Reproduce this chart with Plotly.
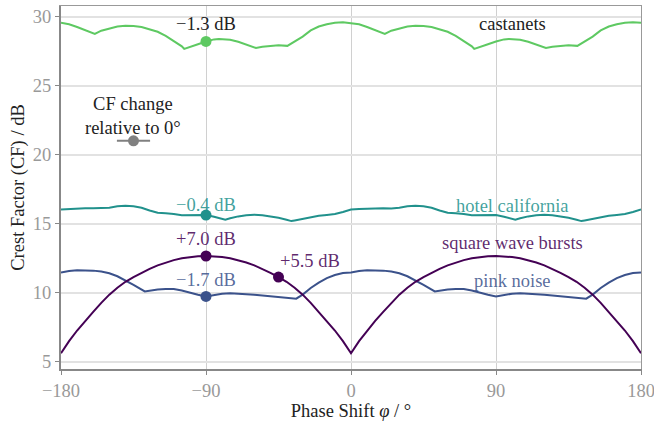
import numpy as np
import plotly.graph_objects as go

# ---------------- data ----------------
phase_ticks = [-180, -90, 0, 90, 180]
phase_tick_labels = ["\u2212180", "\u221290", "0", "90", "180"]
cf_ticks = [5, 10, 15, 20, 25, 30]

cast_x = [-180, -175, -170, -165, -159, -155, -150, -145, -140, -135, -130, -125, -120, -115, -110, -105, -103.5,
          -100, -95, -90, -85, -82, -75, -70, -65, -59, -55, -50, -45, -39.5, -35, -30, -25, -20, -15, -10, -5,
          0, 5, 10, 15, 21, 25, 30, 35, 40, 45, 50, 55, 60, 65, 70, 75, 76.5,
          80, 85, 90, 95, 98, 105, 110, 115, 121, 125, 130, 135, 140.5, 145, 150, 155, 160, 165, 170, 175, 180]
cast_y = [29.55, 29.45, 29.25, 29.02, 28.75, 28.98, 29.15, 29.28, 29.33, 29.32, 29.25, 29.08, 28.9, 28.6, 28.25, 27.85, 27.66,
          27.82, 28.0, 28.2, 28.35, 28.38, 28.32, 28.18, 28.0, 27.73, 27.82, 27.9, 27.93, 27.88, 28.22, 28.55, 29.0, 29.28, 29.45, 29.56, 29.6,
          29.55, 29.45, 29.25, 29.02, 28.75, 28.98, 29.15, 29.28, 29.33, 29.32, 29.25, 29.08, 28.9, 28.6, 28.25, 27.85, 27.66,
          27.82, 28.0, 28.2, 28.35, 28.38, 28.32, 28.18, 28.0, 27.73, 27.82, 27.9, 27.93, 27.88, 28.22, 28.55, 29.0, 29.28, 29.45, 29.56, 29.6, 29.55]

hotel_x = [-180, -175, -170, -165, -160, -155, -150, -145, -140, -135, -130, -125, -120, -115, -110, -105, -100, -95, -90,
           -85, -78, -75, -70, -65, -60, -55, -50, -45, -40, -37, -35, -30, -25, -20, -15, -10, -5,
           0, 5, 10, 15, 20, 25, 30, 35, 40, 45, 50, 55, 60, 65, 70, 75, 80, 85, 90,
           95, 102, 105, 110, 115, 120, 125, 130, 135, 140, 143, 145, 150, 155, 160, 165, 170, 175, 180]
hotel_y = [16.02, 16.06, 16.09, 16.12, 16.11, 16.1, 16.14, 16.25, 16.3, 16.26, 16.15, 15.95, 15.78, 15.74, 15.7, 15.6, 15.62, 15.65, 15.62,
           15.5, 15.28, 15.38, 15.52, 15.6, 15.64, 15.6, 15.53, 15.42, 15.28, 15.18, 15.22, 15.35, 15.47, 15.56, 15.63, 15.7, 15.84,
           16.02, 16.06, 16.09, 16.12, 16.11, 16.1, 16.14, 16.25, 16.3, 16.26, 16.15, 15.95, 15.78, 15.74, 15.7, 15.6, 15.62, 15.65, 15.62,
           15.5, 15.28, 15.38, 15.52, 15.6, 15.64, 15.6, 15.53, 15.42, 15.28, 15.18, 15.22, 15.35, 15.47, 15.56, 15.63, 15.7, 15.84, 16.02]

pink_x = [-180, -175, -170, -165, -160, -155, -150, -145, -140, -135, -128, -125, -120, -115, -110, -105, -100, -95, -90,
          -85, -80, -75, -70, -65, -60, -55, -50, -45, -40, -34, -30, -25, -20, -15, -10, -5,
          0, 5, 10, 15, 20, 25, 30, 35, 40, 45, 52, 55, 60, 65, 70, 75, 80, 85, 90,
          95, 100, 105, 110, 115, 120, 125, 130, 135, 140, 146, 150, 155, 160, 165, 170, 175, 180]
pink_y = [11.45, 11.56, 11.61, 11.62, 11.59, 11.52, 11.4, 11.18, 10.88, 10.55, 10.08, 10.15, 10.22, 10.26, 10.25, 10.15, 9.97, 9.84, 9.72,
          9.84, 9.92, 9.95, 9.93, 9.88, 9.84, 9.79, 9.73, 9.67, 9.62, 9.56, 9.85, 10.33, 10.72, 11.05, 11.27, 11.41,
          11.45, 11.56, 11.61, 11.62, 11.59, 11.52, 11.4, 11.18, 10.88, 10.55, 10.08, 10.15, 10.22, 10.26, 10.25, 10.15, 9.97, 9.84, 9.72,
          9.84, 9.92, 9.95, 9.93, 9.88, 9.84, 9.79, 9.73, 9.67, 9.62, 9.56, 9.85, 10.33, 10.72, 11.05, 11.27, 11.41, 11.45]

square_x = [-180, -175, -170, -165, -160, -155, -150, -145, -140, -135, -130, -125, -120, -115, -110, -105, -100, -95,
            -90, -85, -80, -75, -70, -65, -60, -55, -50, -45, -40, -35, -30, -25, -20, -15, -10, -5,
            0, 5, 10, 15, 20, 25, 30, 35, 40, 45, 50, 55, 60, 65, 70, 75, 80, 85,
            90, 95, 100, 105, 110, 115, 120, 125, 130, 135, 140, 145, 150, 155, 160, 165, 170, 175, 180]
square_y = [5.6, 6.48, 7.25, 7.95, 8.6, 9.25, 9.85, 10.35, 10.78, 11.12, 11.43, 11.72, 11.97, 12.18, 12.35, 12.48, 12.57, 12.63,
            12.65, 12.63, 12.57, 12.48, 12.35, 12.18, 11.97, 11.72, 11.43, 11.12, 10.78, 10.35, 9.85, 9.25, 8.6, 7.95, 7.25, 6.48,
            5.6, 6.48, 7.25, 7.95, 8.6, 9.25, 9.85, 10.35, 10.78, 11.12, 11.43, 11.72, 11.97, 12.18, 12.35, 12.48, 12.57, 12.63,
            12.65, 12.63, 12.57, 12.48, 12.35, 12.18, 11.97, 11.72, 11.43, 11.12, 10.78, 10.35, 9.85, 9.25, 8.6, 7.95, 7.25, 6.48, 5.6]

series_names = ["castanets", "hotel california", "pink noise", "square wave bursts"]
series_colors = ["#5ec962", "#21918c", "#3b528b", "#440154"]
label_colors = ["#222222", "rgba(33,145,140,0.85)", "rgba(59,82,139,0.85)", "rgba(68,1,84,0.85)"]
change_labels = ["\u22121.3 dB", "\u22120.4 dB", "\u22121.7 dB", "+7.0 dB"]
marker_phase = -90
extra_marker_phase = -45
extra_marker_label = "+5.5 dB"

key_x = [-135]
key_y = [21.0]
key_half_width = [10.3]

FONT = "Liberation Serif, Times New Roman, serif"
FS = 18.5

fig = go.Figure()

xs = [cast_x, hotel_x, pink_x, square_x]
ys = [cast_y, hotel_y, pink_y, square_y]
for name, x, y, c in zip(series_names, xs, ys, series_colors):
    fig.add_trace(go.Scatter(x=x, y=y, mode="lines", name=name,
                             line=dict(color=c, width=2), showlegend=False,
                             hoverinfo="skip"))

# markers at -90 degrees
for x, y, c in zip(xs, ys, series_colors):
    my = float(np.interp(marker_phase, x, y))
    fig.add_trace(go.Scatter(x=[marker_phase], y=[my], mode="markers",
                             marker=dict(color=c, size=11), showlegend=False))
sq_extra = float(np.interp(extra_marker_phase, square_x, square_y))
fig.add_trace(go.Scatter(x=[extra_marker_phase], y=[sq_extra], mode="markers",
                         marker=dict(color=series_colors[3], size=11), showlegend=False))

# key symbol
fig.add_trace(go.Scatter(x=key_x, y=key_y, mode="markers",
                         marker=dict(color="#808080", size=11),
                         error_x=dict(type="data", array=key_half_width, color="#808080",
                                      thickness=2, width=0),
                         showlegend=False))

ann = []
def add_text(x, y, text, color):
    ann.append(dict(x=x, y=y, text=text, showarrow=False, xanchor="center", yanchor="middle",
                    font=dict(family=FONT, size=FS, color=color)))

# change labels above markers
add_text(-90, 29.45, change_labels[0], label_colors[0])
add_text(-90, 16.35, change_labels[1], label_colors[1])
add_text(-90, 10.9, change_labels[2], label_colors[2])
add_text(-90, 13.9, change_labels[3], label_colors[3])
add_text(-25.5, 12.3, extra_marker_label, label_colors[3])
# series names
add_text(100, 29.45, series_names[0], label_colors[0])
add_text(100, 16.25, series_names[1], label_colors[1])
add_text(100, 10.85, series_names[2], label_colors[2])
add_text(100, 13.6, series_names[3], label_colors[3])
# key text
ann.append(dict(x=-135.3, y=22.8, text="CF change<br>relative to 0\u00b0", showarrow=False,
                xanchor="center", yanchor="middle", align="center",
                font=dict(family=FONT, size=FS, color="#222222")))

fig.update_layout(
    width=654, height=423,
    margin=dict(l=61, r=13, t=6, b=54),
    paper_bgcolor="white", plot_bgcolor="white",
    font=dict(family=FONT, size=FS, color="#222222"),
    annotations=ann,
    xaxis=dict(range=[-180, 180], tickvals=phase_ticks, ticktext=phase_tick_labels,
               automargin=False, ticklabeloverflow="allow",
               showgrid=True, gridcolor="#d0d0d0", gridwidth=1,
               showline=True, linecolor="#888888", linewidth=2, mirror=False,
               ticks="outside", ticklen=4, tickcolor="#888888", tickwidth=1,
               tickfont=dict(family=FONT, size=FS, color="#999999"),
               zeroline=False,
               title=dict(text="Phase Shift <i>\u03c6</i> / \u00b0", standoff=4,
                          font=dict(family=FONT, size=FS, color="#222222"))),
    yaxis=dict(range=[4.46, 30.77], tickvals=cf_ticks,
               automargin=False, ticklabeloverflow="allow",
               showgrid=True, gridcolor="#e2e2e2", gridwidth=1.5,
               showline=True, linecolor="#888888", linewidth=2, mirror=False,
               ticks="outside", ticklen=4, tickcolor="#888888", tickwidth=1,
               tickfont=dict(family=FONT, size=FS, color="#999999"),
               zeroline=False,
               title=dict(text="Crest Factor (CF) / dB", standoff=3,
                          font=dict(family=FONT, size=FS, color="#222222"))),
    xaxis2=dict(overlaying="x", side="top", range=[-180, 180], showline=True, linecolor="#999999",
                linewidth=1, showticklabels=False, showgrid=False, zeroline=False, automargin=False),
    yaxis2=dict(overlaying="y", side="right", range=[4.46, 30.77], showline=True, linecolor="#999999",
                linewidth=1, showticklabels=False, showgrid=False, zeroline=False, automargin=False),
)
# dummy trace to make the mirrored frame axes render
fig.add_trace(go.Scatter(x=[None], y=[None], xaxis="x2", yaxis="y2", showlegend=False))

fig.write_html("out.html",
               config={"displayModeBar": False},
               post_script="document.body.style.margin='0';document.body.style.padding='0';")
